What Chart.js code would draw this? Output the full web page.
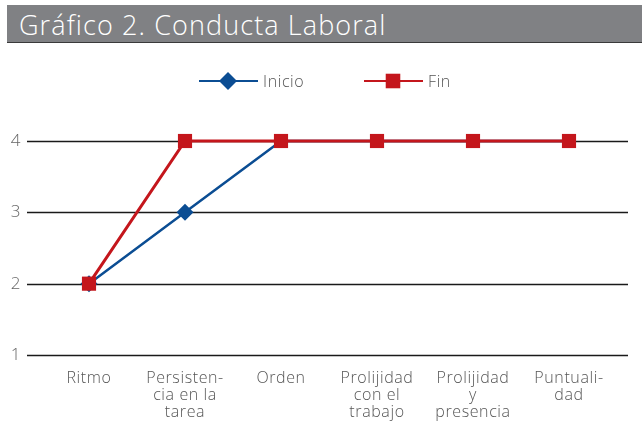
<!DOCTYPE html>
<html>
<head>
<meta charset="utf-8">
<script src="https://cdn.jsdelivr.net/npm/chart.js@4"></script>
<style>
  body { margin: 0; background: #fff; }
  #wrap { position: relative; width: 642px; height: 424px; }
  #titulo {
    position: absolute; left: 7px; top: 5px; width: 635px; height: 38px;
    background: #808184; border-bottom: 1.5px solid #3a3a3a;
    color: #fff; font-family: "Open Sans", sans-serif; font-weight: 300;
    font-size: 27px; letter-spacing: 1.1px; line-height: 39px; padding-left: 12px; box-sizing: border-box;
  }
  canvas { position: absolute; left: 0; top: 0; }
</style>
</head>
<body>
<div id="wrap">
  <div id="titulo">Gráfico 2. Conducta Laboral</div>
  <canvas id="grafico" width="642" height="424"></canvas>
</div>
<script>
// Datos del gráfico
var categorias = [
  ['Ritmo'],
  ['Persisten-', 'cia en la', 'tarea'],
  ['Orden'],
  ['Prolijidad', 'con el', 'trabajo'],
  ['Prolijidad', 'y', 'presencia'],
  ['Puntuali-', 'dad']
];
var inicio = [2, 3, 4, 4, 4, 4];
var fin = [2, 4, 4, 4, 4, 4];
var ticksY = [1, 2, 3, 4];

var azul = '#0b4d93';
var rojo = '#c4161c';
var fuente = 'Open Sans';

// Espaciado de letras para imitar la tipografía original
var espaciado = {
  id: 'espaciado',
  beforeDraw: function(chart) { chart.ctx.letterSpacing = '0.6px'; }
};

// Líneas horizontales que sobresalen del área del gráfico
var lineasGuia = {
  id: 'lineasGuia',
  beforeDatasetsDraw: function(chart) {
    var ctx = chart.ctx;
    var y = chart.scales.y;
    var area = chart.chartArea;
    ctx.save();
    ctx.strokeStyle = '#1a1a1a';
    ctx.lineWidth = 1.3;
    ticksY.forEach(function(v) {
      var py = Math.round(y.getPixelForValue(v)) + 0.5;
      ctx.beginPath();
      ctx.moveTo(area.left - 14, py);
      ctx.lineTo(area.right + 11, py);
      ctx.stroke();
    });
    ctx.restore();
  }
};

// Leyenda dibujada a mano: línea con marcador
var leyenda = {
  id: 'leyenda',
  afterDraw: function(chart) {
    var ctx = chart.ctx;
    var items = [
      { x: 228, ds: chart.data.datasets[0], r: 9 },
      { x: 393, ds: chart.data.datasets[1], r: 10.3 }
    ];
    var yy = 81;
    ctx.save();
    items.forEach(function(it) {
      ctx.strokeStyle = it.ds.borderColor;
      ctx.lineWidth = 2;
      ctx.beginPath();
      ctx.moveTo(it.x - 29, yy);
      ctx.lineTo(it.x + 30, yy);
      ctx.stroke();
      ctx.fillStyle = it.ds.borderColor;
      Chart.helpers.drawPoint(ctx, {
        pointStyle: it.ds.pointStyle,
        radius: it.r,
        borderWidth: 0
      }, it.x, yy);
      ctx.fillStyle = '#555';
      ctx.font = '300 16px "' + fuente + '", sans-serif';
      ctx.textBaseline = 'middle';
      ctx.textAlign = 'left';
      ctx.fillText(it.ds.label, it.x + 35, yy + 1);
    });
    ctx.restore();
  }
};

new Chart(document.getElementById('grafico'), {
  type: 'line',
  data: {
    labels: categorias,
    datasets: [{
      label: 'Inicio',
      data: inicio,
      borderColor: azul,
      backgroundColor: azul,
      borderWidth: 2.5,
      pointStyle: 'rectRot',
      pointRadius: [8.5, 8.5, 0, 0, 0, 0],
      pointBorderWidth: 0,
      order: 1
    }, {
      label: 'Fin',
      data: fin,
      borderColor: rojo,
      backgroundColor: rojo,
      borderWidth: 3,
      pointStyle: 'rect',
      pointRadius: 10,
      pointBorderWidth: 0,
      order: 0
    }]
  },
  options: {
    responsive: false,
    animation: false,
    clip: false,
    layout: { padding: { top: 141, right: 25, left: 0, bottom: 0 } },
    plugins: {
      legend: { display: false },
      title: { display: false },
      tooltip: { enabled: false }
    },
    scales: {
      x: {
        offset: true,
        grid: { display: false, drawTicks: false },
        border: { display: false },
        ticks: {
          padding: 15,
          maxRotation: 0,
          autoSkip: false,
          color: '#555',
          font: { family: fuente, weight: 300, size: 16, lineHeight: 1.06 }
        },
        afterFit: function(s) { s.height = 69; }
      },
      y: {
        min: 1,
        max: 4,
        grid: { display: false, drawTicks: false },
        border: { display: false },
        ticks: {
          stepSize: 1,
          padding: 20,
          color: '#666',
          font: { family: fuente, weight: 300, size: 17 }
        },
        afterFit: function(s) { s.width = 41; }
      }
    }
  },
  plugins: [espaciado, lineasGuia, leyenda]
});
</script>
</body>
</html>
